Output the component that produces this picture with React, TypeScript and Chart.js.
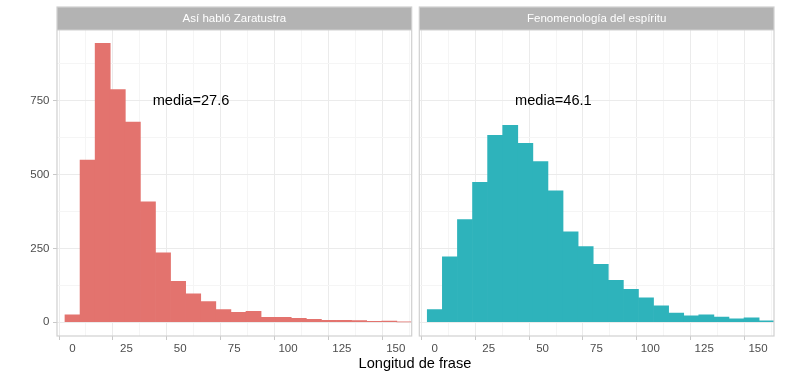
import React, { useEffect, useRef } from "react";
import { Chart, registerables } from "chart.js";

Chart.register(...registerables);

const binCenters = [0, 7, 14, 21, 28, 35, 42, 49, 56, 63, 70, 77, 84, 91, 98, 105, 112, 119, 126, 133, 140, 147, 154];
const zaratustraCounts = [25, 549, 945, 788, 678, 408, 235, 139, 96, 70, 43, 34, 37, 17, 17, 13, 10, 7, 7, 6, 3, 4, 1];
const fenomenologiaCounts = [43, 222, 348, 474, 633, 667, 606, 544, 445, 306, 256, 196, 142, 112, 83, 56, 31, 22, 25, 18, 12, 15, 5];
const panelTitles = ["Así habló Zaratustra", "Fenomenología del espíritu"];
const meanLabels = ["media=27.6", "media=46.1"];
const meanLabelX = 55;
const meanLabelY = 750;
const xTicks = [0, 25, 50, 75, 100, 125, 150];
const xMinorTicks = [12.5, 37.5, 62.5, 87.5, 112.5, 137.5];
const yTicks = [0, 250, 500, 750];
const yMinorTicks = [125, 375, 625, 875];
const xTitle = "Longitud de frase";
const colors = ["#E3736E", "#2EB3BB"];

const X_MIN = -7.2;
const X_MAX = 157.4;
const Y_MIN = -46.5;
const Y_MAX = 990;

const FONT = "'Liberation Sans', Arial, sans-serif";

function makeChart(canvas: HTMLCanvasElement, idx: number) {
  const counts = idx === 0 ? zaratustraCounts : fenomenologiaCounts;
  const isLeft = idx === 0;
  const allX = [...xTicks, ...xMinorTicks].sort((a, b) => a - b);
  const allY = [...yTicks, ...yMinorTicks].sort((a, b) => a - b);
  const panelPlugin = {
    id: "panel" + idx,
    afterDraw(chart: any) {
      const ctx = chart.ctx;
      const a = chart.chartArea;
      ctx.save();
      // strip
      ctx.fillStyle = "#B3B3B3";
      ctx.fillRect(a.left, 7, a.right - a.left, 23);
      ctx.fillStyle = "#FFFFFF";
      ctx.font = `11.5px ${FONT}`;
      ctx.textAlign = "center";
      ctx.textBaseline = "middle";
      ctx.fillText(panelTitles[idx], (a.left + a.right) / 2, 19);
      // border
      ctx.strokeStyle = "#D0D0D0";
      ctx.lineWidth = 1.2;
      ctx.strokeRect(a.left, 7, a.right - a.left, a.bottom - 7);
      ctx.beginPath();
      ctx.moveTo(a.left, a.top);
      ctx.lineTo(a.right, a.top);
      ctx.stroke();
      // mean label
      const xs = chart.scales.x;
      const ys = chart.scales.y;
      ctx.fillStyle = "#000000";
      ctx.font = `14.6px ${FONT}`;
      ctx.textAlign = "center";
      ctx.textBaseline = "middle";
      ctx.fillText(meanLabels[idx], xs.getPixelForValue(meanLabelX), ys.getPixelForValue(meanLabelY));
      ctx.restore();
    },
  };
  return new Chart(canvas, {
    type: "bar",
    data: {
      datasets: [
        {
          data: binCenters.map((c, i) => ({ x: c, y: counts[i] })),
          backgroundColor: colors[idx],
          borderWidth: 0,
          barPercentage: 1,
          categoryPercentage: 1,
        },
      ],
    },
    options: {
      animation: false,
      responsive: false,
      maintainAspectRatio: false,
      events: [],
      layout: { padding: isLeft ? { left: 0, right: 2.3, top: 30, bottom: 0 } : { left: 5.3, right: 29, top: 30, bottom: 0 } },
      plugins: { legend: { display: false }, tooltip: { enabled: false }, title: { display: false } },
      scales: {
        x: {
          type: "linear",
          min: X_MIN,
          max: X_MAX,
          offset: false,
          afterBuildTicks: (s: any) => {
            s.ticks = allX.map((v) => ({ value: v }));
          },
          afterFit: (s: any) => {
            s.height = 42;
          },
          ticks: {
            autoSkip: false,
            maxRotation: 0,
            padding: 2,
            color: "#4D4D4D",
            font: { family: FONT, size: 11.5 },
            callback: (v: any) => (xTicks.includes(Number(v)) ? String(v) : ""),
          },
          grid: {
            color: (c: any) => (xTicks.includes(c.tick?.value) ? "#EBEBEB" : "#F5F5F5"),
            tickColor: (c: any) => (xTicks.includes(c.tick?.value) ? "#C8C8C8" : "rgba(0,0,0,0)"),
            lineWidth: 1,
            tickLength: 4,
            drawTicks: true,
          },
          border: { display: false },
        },
        y: {
          type: "linear",
          min: Y_MIN,
          max: Y_MAX,
          afterBuildTicks: (s: any) => {
            s.ticks = allY.map((v) => ({ value: v }));
          },
          afterFit: (s: any) => {
            s.width = isLeft ? 57 : 0;
          },
          ticks: {
            display: isLeft,
            autoSkip: false,
            padding: 3.5,
            color: "#4D4D4D",
            font: { family: FONT, size: 11.5 },
            callback: (v: any) => (yTicks.includes(Number(v)) ? String(v) : ""),
          },
          grid: {
            color: (c: any) => (yTicks.includes(c.tick?.value) ? "#EBEBEB" : "#F5F5F5"),
            tickColor: (c: any) => (yTicks.includes(c.tick?.value) ? "#C8C8C8" : "rgba(0,0,0,0)"),
            lineWidth: 1,
            tickLength: 4,
            drawTicks: isLeft,
          },
          border: { display: false },
        },
      },
    },
    plugins: [panelPlugin],
  } as any);
}

export default function App() {
  const leftRef = useRef<HTMLCanvasElement>(null);
  const rightRef = useRef<HTMLCanvasElement>(null);
  useEffect(() => {
    const c1 = makeChart(leftRef.current!, 0);
    const c2 = makeChart(rightRef.current!, 1);
    return () => {
      c1.destroy();
      c2.destroy();
    };
  }, []);
  return (
    <div style={{ position: "fixed", left: 0, top: 0, width: 803, height: 378, background: "#FFFFFF", overflow: "hidden" }}>
      <canvas ref={leftRef} width={414} height={378} style={{ position: "absolute", left: 0, top: 0, width: 414, height: 378 }} />
      <canvas ref={rightRef} width={389} height={378} style={{ position: "absolute", left: 414, top: 0, width: 389, height: 378 }} />
      <div
        style={{
          position: "absolute",
          left: 315,
          width: 200,
          top: 354,
          textAlign: "center",
          fontFamily: FONT,
          fontSize: 14.6,
          lineHeight: "18px",
          color: "#000000",
        }}
      >
        {xTitle}
      </div>
    </div>
  );
}
